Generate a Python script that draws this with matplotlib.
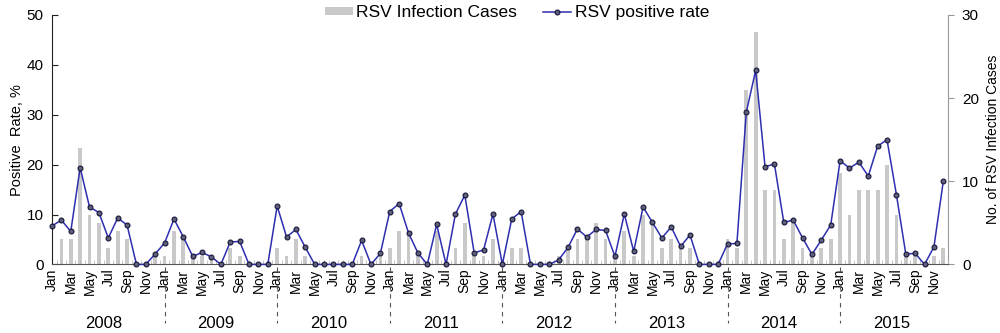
import numpy as np
import matplotlib
matplotlib.use("Agg")
import matplotlib.pyplot as plt
import matplotlib.transforms as mtransforms

plt.rcParams["font.family"] = ["Liberation Sans", "DejaVu Sans"]

years = ["2008", "2009", "2010", "2011", "2012", "2013", "2014", "2015"]
month_names = ["Jan", "Feb", "Mar", "Apr", "May", "Jun",
               "Jul", "Aug", "Sep", "Oct", "Nov", "Dec"]

# RSV positive rate, % (left axis)
rate = [
    7.7, 8.9, 6.6, 19.4, 11.5, 10.4, 5.3, 9.3, 7.9, 0, 0, 2.1,        # 2008
    4.3, 9.1, 5.5, 1.6, 2.4, 1.5, 0, 4.5, 4.6, 0, 0, 0,               # 2009
    11.7, 5.5, 7.0, 3.4, 0, 0, 0, 0, 0, 4.8, 0, 2.2,                  # 2010
    10.6, 12.2, 6.3, 2.3, 0, 8.0, 0, 10.1, 13.9, 2.3, 2.9, 10.1,      # 2011
    0, 9.1, 10.6, 0, 0, 0, 0.9, 3.4, 7.1, 5.5, 7.0, 6.8,              # 2012
    1.6, 10.1, 2.6, 11.5, 8.4, 5.3, 7.5, 3.6, 5.9, 0, 0, 0,           # 2013
    4.1, 4.2, 30.5, 38.9, 19.6, 20.1, 8.4, 8.9, 5.3, 2.0, 4.9, 7.9,   # 2014
    20.8, 19.3, 20.5, 17.7, 23.7, 25.0, 14.0, 2.1, 2.2, 0, 3.5, 16.7, # 2015
]

# number of RSV infection cases (right axis)
cases = [
    0, 3, 3, 14, 6, 5, 2, 4, 3, 0, 0, 1,
    1, 4, 3, 1, 1, 1, 0, 2, 1, 0, 0, 0,
    2, 1, 3, 1, 0, 0, 0, 0, 0, 1, 0, 1,
    2, 4, 4, 1, 0, 4, 0, 2, 5, 1, 1, 3,
    0, 2, 2, 0, 0, 0, 1, 2, 3, 3, 5, 3,
    1, 4, 1, 6, 5, 2, 3, 2, 2, 0, 0, 0,
    3, 2, 21, 28, 9, 9, 3, 5, 2, 1, 2, 3,
    11, 6, 9, 9, 9, 12, 6, 1, 1, 0, 1, 2,
]

x = np.arange(len(rate))

fig = plt.figure(figsize=(10, 3.33), dpi=100)
ax1 = fig.add_axes([0.052, 0.206, 0.896, 0.749])
ax2 = ax1.twinx()

bars = ax2.bar(x, cases, width=0.4, color="#c9c9c9", label="RSV Infection Cases")
line, = ax1.plot(x, rate, color="#2e2eb0", lw=1.1, marker="o", ms=3.5,
                 mfc="#60607a", mec="#15153a", mew=0.8, label="RSV positive rate",
                 clip_on=False, zorder=5)

ax1.set_zorder(ax2.get_zorder() + 1)
ax1.patch.set_visible(False)

ax1.set_xlim(0, 95.5)
ax1.set_ylim(0, 50)
ax2.set_ylim(0, 30)
ax1.set_yticks([0, 10, 20, 30, 40, 50])
ax2.set_yticks([0, 10, 20, 30])

for a in (ax1, ax2):
    a.spines["top"].set_visible(False)
ax1.spines["right"].set_visible(False)
ax2.spines["left"].set_visible(False)
ax2.spines["bottom"].set_visible(False)
ax2.spines["right"].set_color("#999999")
ax1.spines["left"].set_color("#222222")
ax1.spines["bottom"].set_color("#555555")

ax1.tick_params(axis="y", direction="in", length=4, labelsize=11, pad=6, color="#222222")
ax2.tick_params(axis="y", direction="out", length=4, labelsize=11, pad=6, color="#999999")

tick_pos = [i for i in x if i % 2 == 0]
ax1.set_xticks(tick_pos)
ax1.set_xticklabels([month_names[i % 12] for i in tick_pos], rotation=90, fontsize=10)
ax1.set_xticks(np.arange(0, 96, 0.5), minor=True)
ax1.tick_params(axis="x", which="major", length=0, pad=3)
ax1.tick_params(axis="x", which="minor", direction="in", length=3, color="#bbbbbb")

ax1.set_ylabel("Positive  Rate, %", fontsize=10.5, labelpad=2)
ax2.set_ylabel("No. of RSV Infection Cases", fontsize=10, labelpad=5)

trans = mtransforms.blended_transform_factory(ax1.transData, ax1.transAxes)
for k, yr in enumerate(years):
    ax1.text(12 * k + 5.5, -0.238, yr, transform=trans, ha="center",
             va="center", fontsize=12)
    if k > 0:
        ax1.plot([12 * k, 12 * k], [-0.01, -0.235], transform=trans,
                 color="#555555", lw=0.8, ls=(0, (4, 4)), clip_on=False)

fig.legend([bars, line], ["RSV Infection Cases", "RSV positive rate"],
           loc="center", bbox_to_anchor=(0.517, 0.962), ncol=2, frameon=False,
           fontsize=12.5, handlelength=1.6, handleheight=0.35, handletextpad=0.2,
           columnspacing=1.5)

fig.savefig("out.png", dpi=100)
